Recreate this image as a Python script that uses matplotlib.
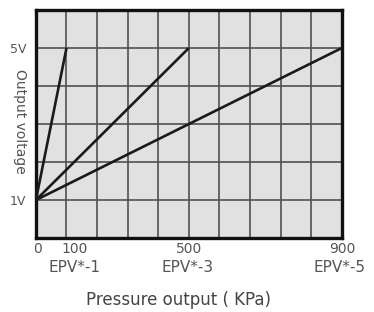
import matplotlib.pyplot as plt
import numpy as np

# full-scale pressure of each model (kPa) and the output voltage range
models = ['EPV*-1', 'EPV*-3', 'EPV*-5']
full_scale = [100, 500, 900]
v_min = 1
v_max = 5
tick_pressures = [0, 100, 500, 900]
tick_labels = ['0', '100', '500', '900']
grid_cols = 10
grid_rows = 6

# the drawing squeezes 0-500 and stretches 500-900 over ten equal columns
def fwd(x):
    x = np.asarray(x, dtype=float)
    return np.where(x <= 500, x, 500 + (x - 500) * 1.25)

def inv(y):
    y = np.asarray(y, dtype=float)
    return np.where(y <= 500, y, 500 + (y - 500) / 1.25)

fig = plt.figure(figsize=(3.74, 3.12), dpi=100)
ax = fig.add_axes([0.096, 0.237, 0.818, 0.731])
ax.set_facecolor('#e1e1e1')
ax.set_xscale('function', functions=(fwd, inv))
ax.set_xlim(0, 900)
ax.set_ylim(0, grid_rows)

# grid
col_edges = inv(np.linspace(0, 1000, grid_cols + 1))
for x in col_edges[1:-1]:
    ax.axvline(x, color='#505050', lw=1.2, zorder=1)
for y in range(1, grid_rows):
    ax.axhline(y, color='#505050', lw=1.2, zorder=1)

for p in full_scale:
    ax.plot([0, p], [v_min, v_max], color='#1a1a1a', lw=1.9, zorder=3,
            solid_capstyle='butt')

for s in ax.spines.values():
    s.set_linewidth(2.4)
    s.set_color('#111111')

ax.set_xticks([])
ax.set_yticks([v_min, v_max])
ax.set_yticklabels([f'{v_min}V', f'{v_max}V'], fontsize=9, color='#555555')
ax.tick_params(axis='y', length=0, pad=7)

txt = dict(color='#555555', ha='center', va='center')
offsets = [1, 6, 0, 0]
for p, lab, dx in zip(tick_pressures, tick_labels, offsets):
    ax.annotate(lab, (p, 0), xycoords=('data', 'axes fraction'),
                xytext=(dx, -8), textcoords='offset points', fontsize=10, **txt)
model_dx = [6, -1, -2]
for p, m, dx in zip(full_scale, models, model_dx):
    ax.annotate(m, (p, 0), xycoords=('data', 'axes fraction'),
                xytext=(dx, -21), textcoords='offset points', fontsize=11,
                **txt)

fig.text(0.476, 0.04, 'Pressure output ( KPa)', fontsize=12, color='#444444',
         ha='center', va='center')
fig.text(0.053, 0.612, 'Output voltage', fontsize=10, color='#555555',
         rotation=270, ha='center', va='center')

fig.savefig('out.png', dpi=100)
